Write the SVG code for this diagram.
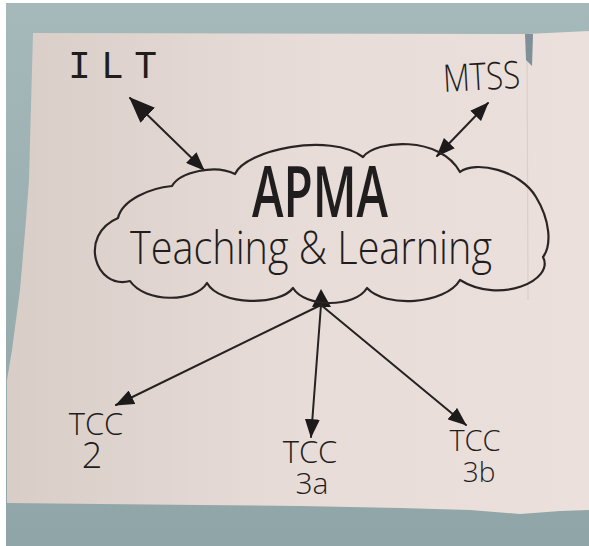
<svg xmlns="http://www.w3.org/2000/svg" width="589" height="546" viewBox="0 0 589 546">
<style>
.ink{fill:#1f1d1d;font-family:"Open Sans","Liberation Sans",sans-serif;font-weight:300}
.mono{fill:#1f1d1d;font-family:"Liberation Mono","DejaVu Sans Mono",monospace}
.line{stroke:#262222;stroke-width:2;fill:none;stroke-linecap:round}
.cloud{stroke:#2a2524;stroke-width:2.2;fill:none;stroke-linejoin:round}
</style>
<defs>
<linearGradient id="paperG" x1="0" y1="0" x2="1" y2="0">
<stop offset="0" stop-color="#d9cdc8"/>
<stop offset="0.5" stop-color="#e7dcd7"/>
<stop offset="1" stop-color="#ebe0dc"/>
</linearGradient>
<linearGradient id="wallG" x1="0" y1="0" x2="0" y2="1">
<stop offset="0" stop-color="#a5b8ba"/>
<stop offset="1" stop-color="#90a5a7"/>
</linearGradient>
<marker id="headL" viewBox="0 0 20 16" markerUnits="userSpaceOnUse" markerWidth="26" markerHeight="21" refX="19" refY="8" orient="auto-start-reverse"><path d="M0,0 L20,8 L0,16 z" fill="#1c1a1a"/></marker>
<marker id="headM" viewBox="0 0 20 16" markerUnits="userSpaceOnUse" markerWidth="19" markerHeight="15" refX="19" refY="8" orient="auto-start-reverse"><path d="M0,0 L20,8 L0,16 z" fill="#1c1a1a"/></marker>
</defs>
<rect x="0" y="0" width="589" height="546" fill="#ffffff"/>
<rect x="6" y="3" width="583" height="543" fill="url(#wallG)"/>
<path d="M33,33 L527,34 L589,31 L589,510 L560,511 L520,514 L470,510 L400,508 L300,506 L200,505 L100,504 L7,503 L7,380 L12,350 L20,290 L26,220 L29,180 Z" fill="url(#paperG)"/>
<path d="M527,34 L528,300" stroke="#d9cfcb" stroke-width="1.2" fill="none"/>
<path d="M525,34 L533,34 L532,66 L526,60 Z" fill="#7f9198"/>

<g id="connectors">
<line class="line" x1="130" y1="98" x2="204" y2="170" marker-start="url(#headL)" marker-end="url(#headM)"/>
<line class="line" x1="488" y1="103" x2="437" y2="156" marker-start="url(#headM)" marker-end="url(#headM)"/>
<polygon points="321,289 312,307 331,307" fill="#1c1a1a"/>
<line class="line" x1="321" y1="305" x2="116" y2="405" marker-end="url(#headM)"/>
<line class="line" x1="321" y1="305" x2="311" y2="437" marker-end="url(#headM)"/>
<line class="line" x1="321" y1="305" x2="466" y2="425" marker-end="url(#headM)"/>
</g>

<g id="node-apma">
<path class="cloud" d="M118,218 C122,200 150,188 172,186 C180,172 215,164 235,174 C245,150 330,132 363,157 C375,140 440,135 460,172 C475,160 520,170 536,197 C550,220 552,245 543,257 C555,280 500,305 460,280 C445,305 385,308 367,288 C355,308 305,308 293,288 C280,306 220,306 207,283 C195,303 145,303 130,281 C95,290 78,235 118,218 Z"/>
<text class="ink"><tspan x="252" y="217" font-size="70" font-weight="600" textLength="136" lengthAdjust="spacingAndGlyphs">APMA</tspan><tspan x="130" y="264" font-size="46" textLength="362" lengthAdjust="spacingAndGlyphs">Teaching &amp; Learning</tspan></text>
</g>

<g id="node-ilt">
<text class="mono" x="68" y="78" font-size="38" textLength="89" lengthAdjust="spacing">ILT</text>
</g>
<g id="node-mtss">
<text class="ink" x="443" y="90" font-size="38" textLength="77" lengthAdjust="spacingAndGlyphs" transform="rotate(-3 480 76)">MTSS</text>
</g>
<g id="node-tcc2">
<text class="ink" text-anchor="middle"><tspan x="96" y="435" font-size="31">TCC</tspan><tspan x="92" y="468" font-size="36">2</tspan></text>
</g>
<g id="node-tcc3a">
<text class="ink" text-anchor="middle"><tspan x="310" y="463" font-size="31">TCC</tspan><tspan x="312" y="494" font-size="30">3a</tspan></text>
</g>
<g id="node-tcc3b">
<text class="ink" text-anchor="middle"><tspan x="475" y="451" font-size="29">TCC</tspan><tspan x="479" y="482" font-size="28">3b</tspan></text>
</g>
</svg>
